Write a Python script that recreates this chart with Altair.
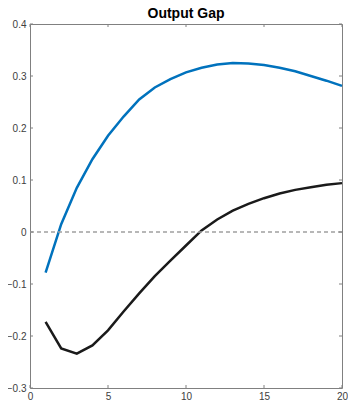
import altair as alt
import pandas as pd

periods = list(range(1, 21))
blue_vals = [-0.078, 0.015, 0.085, 0.140, 0.185, 0.222, 0.255, 0.278, 0.294, 0.307,
             0.316, 0.322, 0.325, 0.324, 0.321, 0.316, 0.309, 0.300, 0.291, 0.281]
black_vals = [-0.173, -0.224, -0.234, -0.218, -0.189, -0.153, -0.118, -0.085, -0.055, -0.026,
              0.003, 0.024, 0.041, 0.054, 0.065, 0.074, 0.081, 0.086, 0.091, 0.094]
x_ticks = [0, 5, 10, 15, 20]
y_ticks = [-0.3, -0.2, -0.1, 0, 0.1, 0.2, 0.3, 0.4]

W, H = 312, 364
FONT = "Liberation Sans"
AX = "#808080"

df = pd.DataFrame({
    "t": periods * 2,
    "v": blue_vals + black_vals,
    "s": ["a"] * 20 + ["b"] * 20,
})
xt = pd.DataFrame({"t": x_ticks})
yt = pd.DataFrame({"v": y_ticks})
zero = pd.DataFrame({"v": [0]})

xs = alt.Scale(domain=[0, 20], nice=False, zero=False)
ys = alt.Scale(domain=[-0.3, 0.4], nice=False, zero=False)

xaxis = alt.Axis(values=x_ticks, format="d", tickSize=0, labelPadding=3, domain=False,
                 grid=False, labelFontSize=10, labelColor="#404040", labelFont=FONT,
                 labelFlush=False, title=None)
yaxis = alt.Axis(values=y_ticks, tickSize=0, labelPadding=4, domain=False, grid=False,
                 labelFontSize=10, labelColor="#404040", labelFont=FONT,
                 labelFlush=False, title=None,
                 labelExpr="datum.value == 0 ? '0' : format(datum.value, '.1f')")

X = alt.X("t:Q", scale=xs, axis=xaxis)
Y = alt.Y("v:Q", scale=ys, axis=yaxis)

lines = alt.Chart(df).mark_line(strokeWidth=2.5).encode(
    x=X, y=Y,
    color=alt.Color("s:N", scale=alt.Scale(domain=["a", "b"], range=["#0072BD", "#1a1a1a"]), legend=None),
)

zline = alt.Chart(zero).mark_rule(strokeDash=[4, 3], color="#a0a0a0", strokeWidth=1.5).encode(y=Y)

tick_b = alt.Chart(xt).mark_rule(color=AX, strokeWidth=1).encode(
    x=X, y=alt.value(H), y2=alt.value(H - 3))
tick_t = alt.Chart(xt).mark_rule(color=AX, strokeWidth=1).encode(
    x=X, y=alt.value(0), y2=alt.value(3))
tick_l = alt.Chart(yt).mark_rule(color=AX, strokeWidth=1).encode(
    y=Y, x=alt.value(0), x2=alt.value(3))
tick_r = alt.Chart(yt).mark_rule(color=AX, strokeWidth=1).encode(
    y=Y, x=alt.value(W), x2=alt.value(W - 3))

chart = alt.layer(lines, zline, tick_b, tick_t, tick_l, tick_r).properties(
    width=W, height=H,
    autosize="none",
    padding={"left": 22, "top": 16, "right": 6, "bottom": 12},
    title=alt.TitleParams("Output Gap", fontSize=14, font=FONT, fontWeight="bold",
                          offset=5, dy=7, anchor="middle", frame="group", color="#000000"),
).configure_view(stroke=AX, strokeWidth=1)

chart.save("out.html", embed_options={"renderer": "svg", "actions": False})
